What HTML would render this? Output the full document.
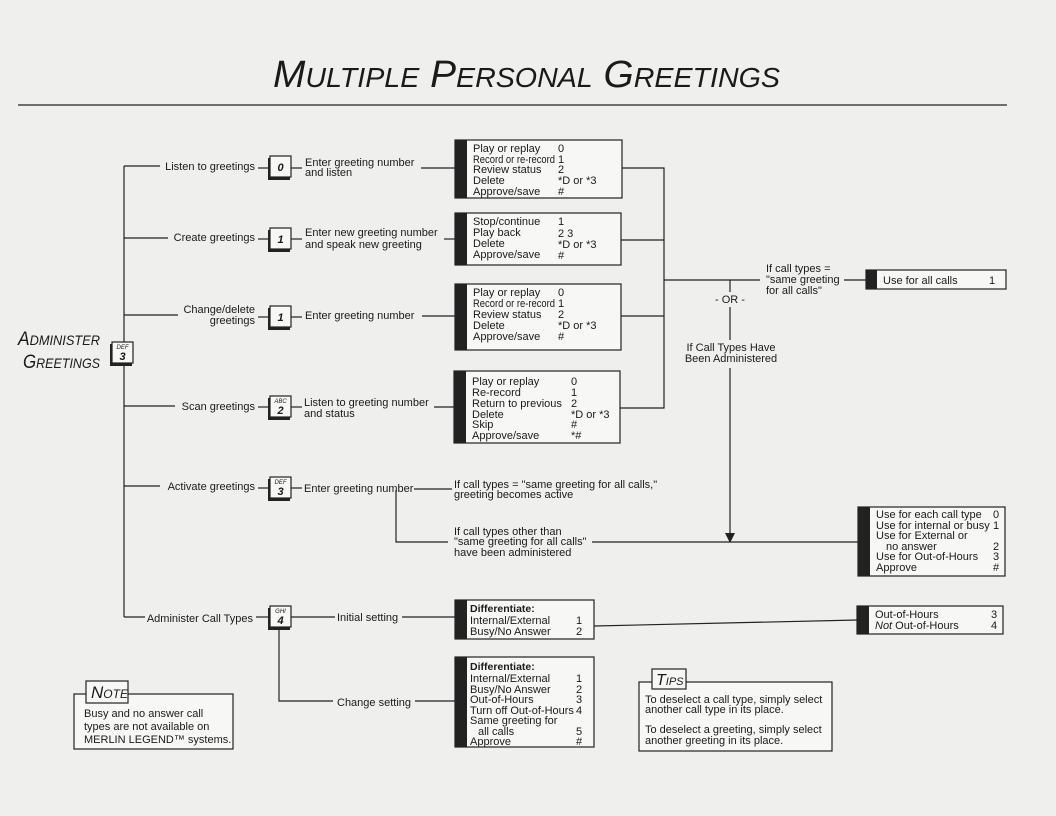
<!DOCTYPE html>
<html><head><meta charset="utf-8"><style>
html,body{margin:0;padding:0;background:#efefed;}
svg{display:block;font-family:"Liberation Sans",sans-serif;}
text{fill:#1a1a1a;font-size:11px;}
.l{stroke:#222;stroke-width:1.2;fill:none;}
.b{fill:#f7f7f5;stroke:#222;stroke-width:1.2;}
.k{font-size:11px;font-weight:bold;font-style:italic;text-anchor:middle;}
.ks{font-size:6px;font-style:italic;text-anchor:middle;}
</style></head><body>
<svg width="1056" height="816" viewBox="0 0 1056 816">
<text x="273" y="87" style="font-size:38px;font-style:italic;" textLength="507" lengthAdjust="spacingAndGlyphs">M<tspan style="font-size:28px">ULTIPLE</tspan> P<tspan style="font-size:28px">ERSONAL</tspan> G<tspan style="font-size:28px">REETINGS</tspan></text>
<line x1="18" y1="105" x2="1007" y2="105" class="l"/>

<text x="18" y="345" style="font-size:19px;font-style:italic;" textLength="82" lengthAdjust="spacingAndGlyphs">A<tspan style="font-size:14px">DMINISTER</tspan></text>
<text x="23" y="368" style="font-size:19px;font-style:italic;" textLength="77" lengthAdjust="spacingAndGlyphs">G<tspan style="font-size:14px">REETINGS</tspan></text>
<rect x="110" y="344" width="22" height="22" fill="#222"/><rect x="112" y="342" width="21" height="21" class="b"/>
<text x="122.5" y="349" class="ks">DEF</text><text x="122.5" y="360" class="k">3</text>

<line x1="124" y1="166" x2="124" y2="342" class="l"/>
<line x1="124" y1="366" x2="124" y2="617" class="l"/>
<line x1="124" y1="166" x2="160" y2="166" class="l"/>
<line x1="124" y1="238" x2="168" y2="238" class="l"/>
<line x1="124" y1="315" x2="178" y2="315" class="l"/>
<line x1="124" y1="406" x2="175" y2="406" class="l"/>
<line x1="124" y1="486" x2="160" y2="486" class="l"/>
<line x1="124" y1="617" x2="145" y2="617" class="l"/>

<g text-anchor="end">
<text x="255" y="170">Listen to greetings</text>
<text x="255" y="241">Create greetings</text>
<text x="255" y="313">Change/delete</text>
<text x="255" y="324">greetings</text>
<text x="255" y="410">Scan greetings</text>
<text x="255" y="490">Activate greetings</text>
<text x="253" y="622">Administer Call Types</text>
</g>

<g>
<line x1="258" y1="168" x2="270" y2="168" class="l"/><line x1="290" y1="168" x2="302" y2="168" class="l"/>
<rect x="268" y="158" width="22" height="22" fill="#222"/><rect x="270" y="156" width="21" height="21" class="b"/>
<text x="280.5" y="171" class="k">0</text>

<line x1="258" y1="239" x2="270" y2="239" class="l"/><line x1="290" y1="239" x2="302" y2="239" class="l"/>
<rect x="268" y="230" width="22" height="22" fill="#222"/><rect x="270" y="228" width="21" height="21" class="b"/>
<text x="280.5" y="243" class="k">1</text>

<line x1="258" y1="317" x2="270" y2="317" class="l"/><line x1="290" y1="317" x2="302" y2="317" class="l"/>
<rect x="268" y="308" width="22" height="22" fill="#222"/><rect x="270" y="306" width="21" height="21" class="b"/>
<text x="280.5" y="321" class="k">1</text>

<line x1="258" y1="407" x2="270" y2="407" class="l"/><line x1="290" y1="407" x2="302" y2="407" class="l"/>
<rect x="268" y="398" width="22" height="22" fill="#222"/><rect x="270" y="396" width="21" height="21" class="b"/>
<text x="280.5" y="403" class="ks">ABC</text><text x="280.5" y="414" class="k">2</text>

<line x1="258" y1="488" x2="270" y2="488" class="l"/><line x1="290" y1="488" x2="302" y2="488" class="l"/>
<rect x="268" y="479" width="22" height="22" fill="#222"/><rect x="270" y="477" width="21" height="21" class="b"/>
<text x="280.5" y="484" class="ks">DEF</text><text x="280.5" y="495" class="k">3</text>

<line x1="256" y1="617" x2="270" y2="617" class="l"/><line x1="290" y1="617" x2="335" y2="617" class="l"/>
<rect x="268" y="608" width="22" height="22" fill="#222"/><rect x="270" y="606" width="21" height="21" class="b"/>
<text x="280.5" y="613" class="ks">GHI</text><text x="280.5" y="624" class="k">4</text>
</g>

<text x="305" y="166">Enter greeting number</text><text x="305" y="176">and listen</text>
<line x1="421" y1="168" x2="455" y2="168" class="l"/>
<text x="305" y="236">Enter new greeting number</text><text x="305" y="248">and speak new greeting</text>
<line x1="444" y1="239" x2="455" y2="239" class="l"/>
<text x="305" y="319">Enter greeting number</text>
<line x1="422" y1="316" x2="455" y2="316" class="l"/>
<text x="304" y="406">Listen to greeting number</text><text x="304" y="417">and status</text>
<line x1="434" y1="407" x2="455" y2="407" class="l"/>

<text x="304" y="492">Enter greeting number</text>
<line x1="414" y1="489" x2="452" y2="489" class="l"/>
<text x="454" y="488">If call types = "same greeting for all calls,"</text>
<text x="454" y="498">greeting becomes active</text>
<polyline points="396,490 396,542 448,542" class="l"/>
<text x="454" y="535">If call types other than</text>
<text x="454" y="545">"same greeting for all calls"</text>
<text x="454" y="556">have been administered</text>
<line x1="592" y1="542" x2="858" y2="542" class="l"/>

<g>
<rect x="455" y="140" width="167" height="58" class="b"/><rect x="455" y="140" width="12" height="58" fill="#222"/>
<text x="473" y="152">Play or replay</text><text x="558" y="152">0</text>
<text x="473" y="163" textLength="82" lengthAdjust="spacingAndGlyphs">Record or re-record</text><text x="558" y="163">1</text>
<text x="473" y="173">Review status</text><text x="558" y="173">2</text>
<text x="473" y="184">Delete</text><text x="558" y="184">*D or *3</text>
<text x="473" y="195">Approve/save</text><text x="558" y="195">#</text>

<rect x="455" y="213" width="166" height="52" class="b"/><rect x="455" y="213" width="12" height="52" fill="#222"/>
<text x="473" y="225">Stop/continue</text><text x="558" y="225">1</text>
<text x="473" y="236">Play back</text><text x="558" y="237">2 3</text>
<text x="473" y="247">Delete</text><text x="558" y="248">*D or *3</text>
<text x="473" y="258">Approve/save</text><text x="558" y="259">#</text>

<rect x="455" y="284" width="166" height="66" class="b"/><rect x="455" y="284" width="12" height="66" fill="#222"/>
<text x="473" y="296">Play or replay</text><text x="558" y="296">0</text>
<text x="473" y="307" textLength="82" lengthAdjust="spacingAndGlyphs">Record or re-record</text><text x="558" y="307">1</text>
<text x="473" y="318">Review status</text><text x="558" y="318">2</text>
<text x="473" y="329">Delete</text><text x="558" y="329">*D or *3</text>
<text x="473" y="340">Approve/save</text><text x="558" y="340">#</text>

<rect x="454" y="371" width="166" height="72" class="b"/><rect x="454" y="371" width="12" height="72" fill="#222"/>
<text x="472" y="385">Play or replay</text><text x="571" y="385">0</text>
<text x="472" y="396">Re-record</text><text x="571" y="396">1</text>
<text x="472" y="407">Return to previous</text><text x="571" y="407">2</text>
<text x="472" y="418">Delete</text><text x="571" y="418">*D or *3</text>
<text x="472" y="428">Skip</text><text x="571" y="428">#</text>
<text x="472" y="439">Approve/save</text><text x="571" y="439">*#</text>
</g>

<polyline points="622,168 664,168 664,408 620,408" class="l"/>
<line x1="621" y1="240" x2="664" y2="240" class="l"/>
<line x1="621" y1="316" x2="664" y2="316" class="l"/>
<line x1="664" y1="280" x2="760" y2="280" class="l"/>
<text x="766" y="272">If call types =</text>
<text x="766" y="283">"same greeting</text>
<text x="766" y="294">for all calls"</text>
<line x1="844" y1="280" x2="866" y2="280" class="l"/>
<rect x="866" y="270" width="140" height="19" class="b"/><rect x="866" y="270" width="11" height="19" fill="#222"/>
<text x="883" y="284">Use for all calls</text><text x="989" y="284">1</text>

<line x1="730" y1="280" x2="730" y2="292" class="l"/>
<text x="730" y="303" text-anchor="middle">- OR -</text>
<line x1="730" y1="307" x2="730" y2="340" class="l"/>
<text x="731" y="351" text-anchor="middle">If Call Types Have</text>
<text x="731" y="362" text-anchor="middle">Been Administered</text>
<line x1="730" y1="368" x2="730" y2="534" class="l"/>
<polygon points="725,533 735,533 730,543" fill="#222"/>

<rect x="858" y="507" width="147" height="69" class="b"/><rect x="858" y="507" width="12" height="69" fill="#222"/>
<text x="876" y="518">Use for each call type</text><text x="993" y="518">0</text>
<text x="876" y="529">Use for internal or busy</text><text x="993" y="529">1</text>
<text x="876" y="539">Use for External or</text>
<text x="886" y="550">no answer</text><text x="993" y="550">2</text>
<text x="876" y="560">Use for Out-of-Hours</text><text x="993" y="560">3</text>
<text x="876" y="571">Approve</text><text x="993" y="571">#</text>

<text x="337" y="621">Initial setting</text>
<line x1="402" y1="617" x2="455" y2="617" class="l"/>
<rect x="455" y="600" width="139" height="39" class="b"/><rect x="455" y="600" width="12" height="39" fill="#222"/>
<text x="470" y="612" style="font-weight:bold;font-size:10.5px">Differentiate:</text>
<text x="470" y="624">Internal/External</text><text x="576" y="624">1</text>
<text x="470" y="635">Busy/No Answer</text><text x="576" y="635">2</text>
<line x1="594" y1="626" x2="858" y2="620" class="l"/>
<rect x="857" y="606" width="146" height="28" class="b"/><rect x="857" y="606" width="12" height="28" fill="#222"/>
<text x="875" y="618">Out-of-Hours</text><text x="991" y="618">3</text>
<text x="875" y="629"><tspan font-style="italic">Not</tspan> Out-of-Hours</text><text x="991" y="629">4</text>

<polyline points="279,628 279,701 333,701" class="l"/>
<text x="337" y="706">Change setting</text>
<line x1="415" y1="701" x2="455" y2="701" class="l"/>
<rect x="455" y="657" width="139" height="90" class="b"/><rect x="455" y="657" width="12" height="90" fill="#222"/>
<text x="470" y="670" style="font-weight:bold;font-size:10.5px">Differentiate:</text>
<text x="470" y="682">Internal/External</text><text x="576" y="682">1</text>
<text x="470" y="693">Busy/No Answer</text><text x="576" y="693">2</text>
<text x="470" y="703">Out-of-Hours</text><text x="576" y="703">3</text>
<text x="470" y="714">Turn off Out-of-Hours</text><text x="576" y="714">4</text>
<text x="470" y="724">Same greeting for</text>
<text x="478" y="735">all calls</text><text x="576" y="735">5</text>
<text x="470" y="745">Approve</text><text x="576" y="745">#</text>

<rect x="74" y="694" width="159" height="55" class="b"/>
<rect x="86" y="681" width="42" height="22" class="b"/>
<text x="91" y="698" style="font-size:17px;font-style:italic">N<tspan style="font-size:12px">OTE</tspan></text>
<text x="84" y="717">Busy and no answer call</text>
<text x="84" y="730">types are not available on</text>
<text x="84" y="743">MERLIN LEGEND™ systems.</text>

<rect x="639" y="682" width="193" height="69" class="b"/>
<rect x="652" y="669" width="34" height="20" class="b"/>
<text x="656" y="685" style="font-size:16px;font-style:italic">T<tspan style="font-size:11px">IPS</tspan></text>
<text x="645" y="703">To deselect a call type, simply select</text>
<text x="645" y="713">another call type in its place.</text>
<text x="645" y="733">To deselect a greeting, simply select</text>
<text x="645" y="744">another greeting in its place.</text>
</svg>
</body></html>
